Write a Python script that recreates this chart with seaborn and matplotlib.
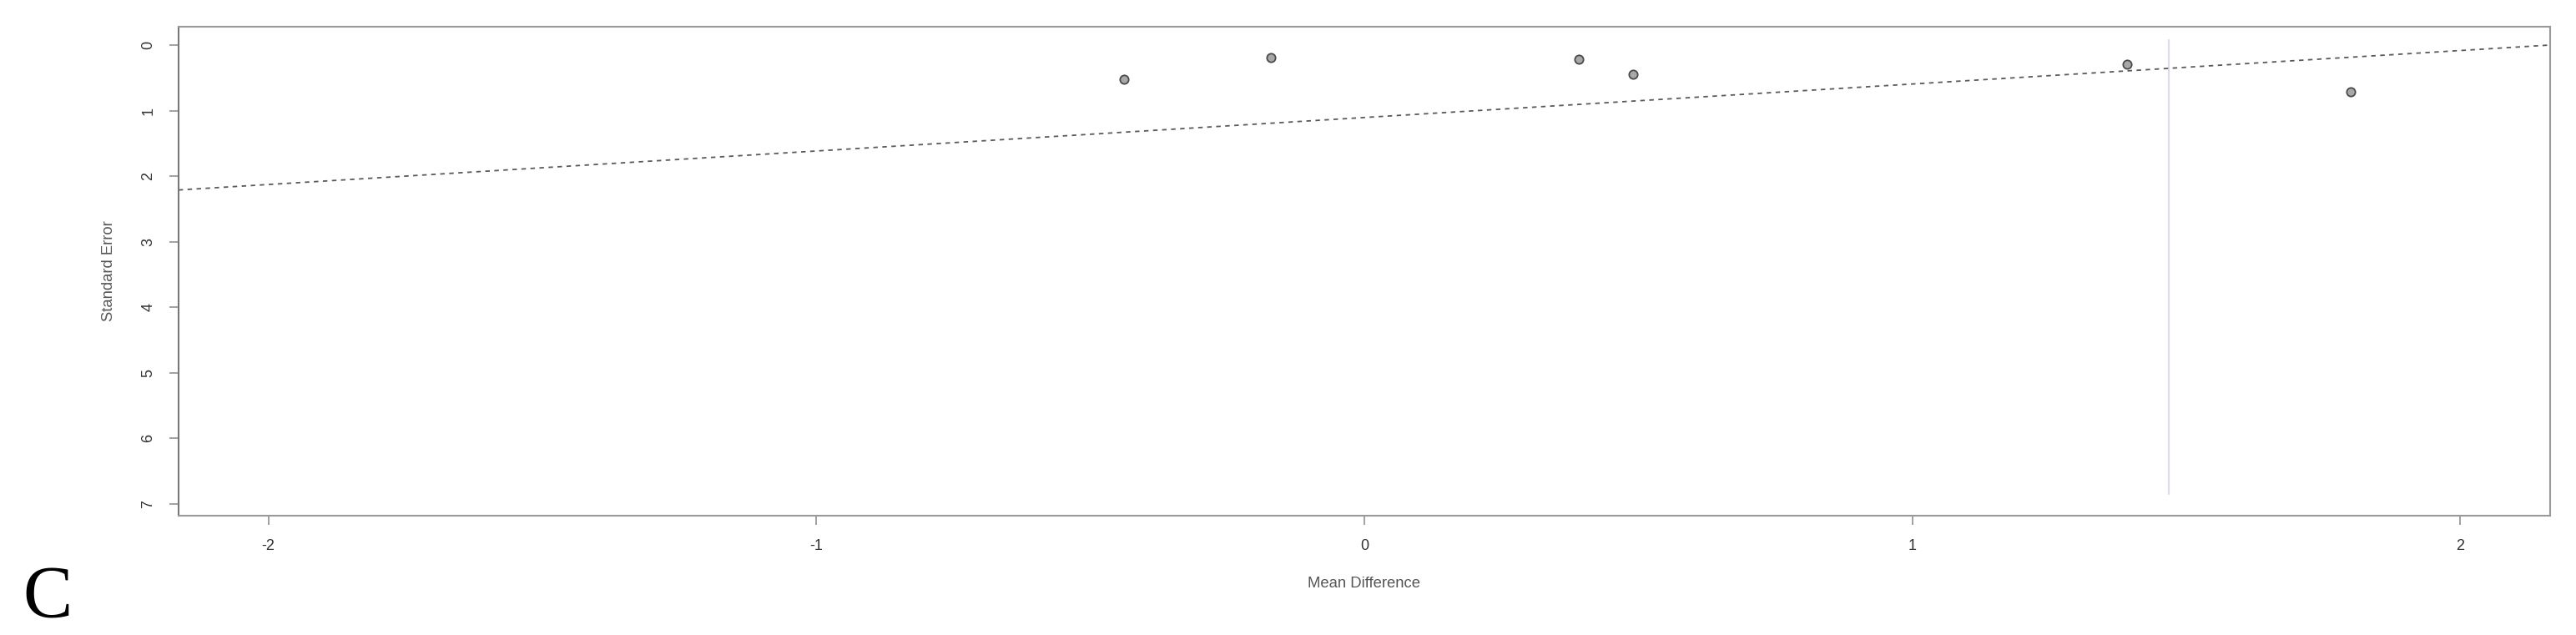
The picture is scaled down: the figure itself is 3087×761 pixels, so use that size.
#!/usr/bin/env python3
"""
Funnel-style plot: standard error against mean difference, panel C.
"""

import numpy as np
import pandas as pd
import matplotlib
matplotlib.use("Agg")
import matplotlib.pyplot as plt
import seaborn as sns

# Study estimates
MEAN_DIFF = [-0.439, -0.170, 0.391, 0.491, 1.392, 1.801]
STD_ERR = [0.52, 0.19, 0.22, 0.44, 0.29, 0.71]

# Regression (dashed) line and pooled estimate (vertical line)
LINE_INTERCEPT = 1.105
LINE_SLOPE = -0.511
POOLED = 1.469
POOLED_SE_RANGE = [-0.08, 6.85]

X_TICKS = [-2, -1, 0, 1, 2]
Y_TICKS = [0, 1, 2, 3, 4, 5, 6, 7]
XLIM = (-2.164, 2.164)
YLIM = (7.18, -0.28)

PANEL = "C"


def make_plot():
    df = pd.DataFrame({"md": MEAN_DIFF, "se": STD_ERR})

    sns.set_theme(style="white")
    plt.rcParams["font.family"] = ["Liberation Sans", "DejaVu Sans"]
    plt.rcParams["axes.unicode_minus"] = False  # R style hyphen minus

    fig = plt.figure(figsize=(30.87, 7.61), dpi=100)
    ax = fig.add_axes([0.0693, 0.1879, 0.9206, 0.770])

    # vertical line at the pooled estimate
    ax.plot([POOLED, POOLED], POOLED_SE_RANGE, color="#dcdce6", lw=1.6, zorder=1)

    # dashed regression line across the plotting range
    xs = np.array(XLIM)
    ax.plot(xs, LINE_INTERCEPT + LINE_SLOPE * xs, color="#5a5a5a",
            lw=1.3, ls=(0, (3, 3)), zorder=2)

    sns.scatterplot(data=df, x="md", y="se", ax=ax, marker="o", s=55,
                    facecolor="#a8a8a8", edgecolor="#4a4a4a", linewidth=1.3,
                    zorder=3)

    ax.set_xlim(*XLIM)
    ax.set_ylim(*YLIM)
    ax.set_xticks(X_TICKS)
    ax.set_yticks(Y_TICKS)
    ax.set_yticklabels([str(t) for t in Y_TICKS], rotation=90, va="center")

    ax.set_xlabel("Mean Difference", fontsize=13.3, color="#555555", labelpad=20)
    ax.set_ylabel("Standard Error", fontsize=13.3, color="#555555", labelpad=22)

    ax.tick_params(axis="both", direction="out", length=8, width=1.1,
                   colors="#888888", labelcolor="#333333", labelsize=13,
                   pad=12, bottom=True, left=True)

    for side in ["top", "right", "bottom", "left"]:
        ax.spines[side].set_visible(True)
        ax.spines[side].set_color("#999999")
        ax.spines[side].set_linewidth(1.5)
    ax.spines["left"].set_color("#777777")

    fig.text(27 / 3087, 0.030, PANEL, fontsize=64, family=["Liberation Serif"],
             color="black", ha="left", va="baseline")

    fig.savefig("out.png", dpi=100)
    plt.close(fig)


if __name__ == "__main__":
    make_plot()
